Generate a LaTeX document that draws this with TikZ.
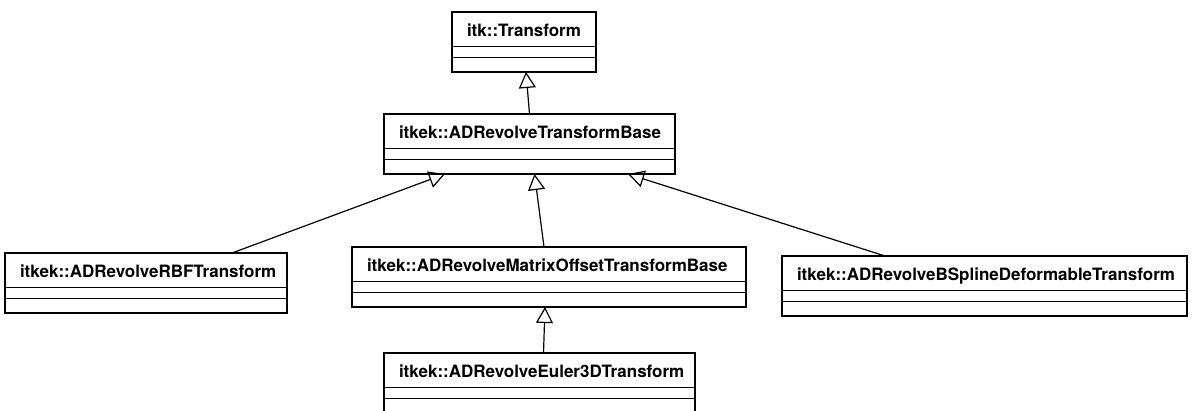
\documentclass[tikz,border=0pt]{standalone}
\usepackage{fontspec}
\setmainfont{TeX Gyre Heros}
\usepackage{tikz}
\usetikzlibrary{positioning,fit,arrows.meta}

\begin{document}
\begin{tikzpicture}[x=1pt,y=-1pt,node distance=0pt]
    \tikzset{classname/.style={draw,rectangle,line width=0.8pt,outer sep=0pt,inner xsep=15pt,inner ysep=0pt,
        minimum height=34pt,text width=#1,align=left,text height=16pt,text depth=0pt,
        font=\fontsize{17}{20}\selectfont\bfseries},
      classattr/.style={draw,rectangle,line width=0.8pt,outer sep=0pt,inner sep=0pt,minimum height=11pt,minimum width=#1},
      classops/.style={draw,rectangle,line width=0.8pt,outer sep=0pt,inner sep=0pt,minimum height=15pt,minimum width=#1},
      classframe/.style={draw,rectangle,line width=2.3pt,outer sep=0pt,inner sep=0pt},
      extends/.style={-{Triangle[open,length=16pt,width=17pt]},line width=1.2pt}}
    \useasboundingbox (0,0) rectangle (1192,411);
    % itk::Transform
    \node[classname=114pt,anchor=north west] (transform-name) at (452,12) {itk::Transform};
    \node[classattr=144pt] (transform-attr) [below = of transform-name] {};
    \node[classops=144pt] (transform-ops) [below = of transform-attr] {};
    \node[classframe,fit=(transform-name)(transform-ops)] (transform) {};
    % base
    \node[classname=261pt,anchor=north west] (base-name) at (384,114) {itkek::ADRevolveTransformBase};
    \node[classattr=291pt] (base-attr) [below = of base-name] {};
    \node[classops=291pt] (base-ops) [below = of base-attr] {};
    \node[classframe,fit=(base-name)(base-ops)] (base) {};
    % rbf
    \node[classname=252pt,anchor=north west] (rbf-name) at (5,253) {itkek::ADRevolveRBFTransform};
    \node[classattr=282pt] (rbf-attr) [below = of rbf-name] {};
    \node[classops=282pt] (rbf-ops) [below = of rbf-attr] {};
    \node[classframe,fit=(rbf-name)(rbf-ops)] (rbf) {};
    % matrix offset
    \node[classname=364pt,anchor=north west] (matrix-name) at (352,247) {itkek::ADRevolveMatrixOffsetTransformBase};
    \node[classattr=394pt] (matrix-attr) [below = of matrix-name] {};
    \node[classops=394pt] (matrix-ops) [below = of matrix-attr] {};
    \node[classframe,fit=(matrix-name)(matrix-ops)] (matrix) {};
    % bspline
    \node[classname=375pt,anchor=north west] (bspline-name) at (782,256) {itkek::ADRevolveBSplineDeformableTransform};
    \node[classattr=405pt] (bspline-attr) [below = of bspline-name] {};
    \node[classops=405pt] (bspline-ops) [below = of bspline-attr] {};
    \node[classframe,fit=(bspline-name)(bspline-ops)] (bspline) {};
    % euler 3d
    \node[classname=281pt,anchor=north west] (euler-name) at (384,353) {itkek::ADRevolveEuler3DTransform};
    \node[classattr=311pt] (euler-attr) [below = of euler-name] {};
    \node[classops=311pt] (euler-ops) [below = of euler-attr] {};
    \node[classframe,fit=(euler-name)(euler-ops)] (euler) {};
    \path[extends]
    (base.north) edge ([xshift=2pt]transform.south)
    ([xshift=-55pt]rbf.north east) edge ([xshift=61pt]base.south west)
    ([xshift=-5pt]matrix.north) edge ([xshift=5pt]base.south)
    ([xshift=103pt]bspline.north west) edge ([xshift=-47pt]base.south east)
    ([xshift=4pt]euler.north) edge ([xshift=-4pt]matrix.south)
    ;
  \end{tikzpicture}
\end{document}
